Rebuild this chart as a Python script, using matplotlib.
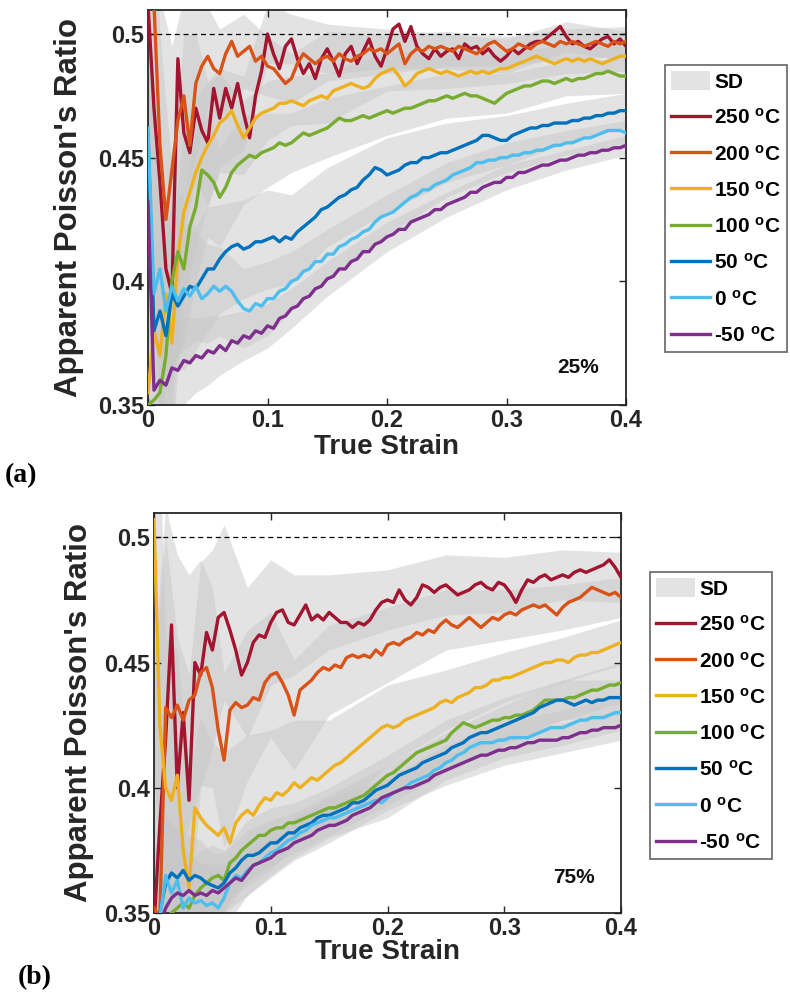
import numpy as np
import matplotlib
matplotlib.use("Agg")
import matplotlib.pyplot as plt
from matplotlib.patches import Patch
from matplotlib.lines import Line2D

plt.rcParams['font.family'] = ['Liberation Sans', 'DejaVu Sans']
plt.rcParams['font.weight'] = 'bold'
plt.rcParams['mathtext.fontset'] = 'custom'
plt.rcParams['mathtext.rm'] = 'Liberation Sans:bold'
plt.rcParams['mathtext.it'] = 'Liberation Sans:bold'
plt.rcParams['mathtext.bf'] = 'Liberation Sans:bold'

# ---------------- data ----------------
strain = np.round(np.arange(81) * 0.005, 3)  # 0 .. 0.4 sample positions
labels = ['250 $^{o}$C', '200 $^{o}$C', '150 $^{o}$C', '100 $^{o}$C',
          '50 $^{o}$C', '0 $^{o}$C', '-50 $^{o}$C']
colors = ['#A2142F', '#D95319', '#EDB120', '#77AC30', '#0072BD', '#4DBEEE', '#7E2F8E']

# panel (a) 25%
a_250 = [0.512,0.470,0.440,0.405,0.395,0.490,0.460,0.452,0.470,0.461,0.456,0.478,0.466,0.478,0.470,0.480,
         0.468,0.458,0.475,0.485,0.500,0.492,0.486,0.495,0.498,0.490,0.484,0.488,0.482,0.490,0.494,0.489,
         0.483,0.492,0.495,0.488,0.493,0.498,0.491,0.487,0.494,0.502,0.504,0.497,0.503,0.495,0.492,0.490,
         0.494,0.491,0.493,0.494,0.490,0.496,0.494,0.495,0.492,0.494,0.491,0.489,0.491,0.494,0.492,0.494,
         0.496,0.497,0.497,0.499,0.501,0.503,0.499,0.496,0.497,0.495,0.494,0.496,0.498,0.499,0.496,0.498,0.495]
a_200 = [0.512,0.512,0.455,0.425,0.445,0.465,0.475,0.455,0.480,0.487,0.491,0.486,0.484,0.492,0.497,0.491,
         0.493,0.495,0.489,0.491,0.487,0.486,0.483,0.480,0.482,0.488,0.492,0.490,0.488,0.490,0.491,0.489,
         0.492,0.490,0.489,0.491,0.492,0.494,0.493,0.494,0.492,0.494,0.496,0.488,0.492,0.494,0.493,0.495,
         0.494,0.495,0.494,0.493,0.495,0.494,0.493,0.492,0.494,0.496,0.497,0.495,0.493,0.494,0.496,0.495,
         0.494,0.496,0.497,0.496,0.495,0.497,0.496,0.497,0.496,0.495,0.496,0.497,0.496,0.495,0.497,0.496,0.497]
a_150 = [0.355,0.380,0.370,0.395,0.375,0.410,0.428,0.436,0.444,0.450,0.455,0.459,0.464,0.466,0.469,0.463,
         0.458,0.462,0.466,0.468,0.469,0.470,0.472,0.472,0.473,0.472,0.471,0.473,0.474,0.475,0.474,0.477,
         0.478,0.479,0.480,0.479,0.478,0.479,0.482,0.484,0.485,0.486,0.483,0.479,0.481,0.484,0.485,0.486,
         0.485,0.484,0.485,0.484,0.483,0.484,0.485,0.484,0.485,0.484,0.485,0.486,0.486,0.487,0.488,0.489,
         0.490,0.491,0.490,0.489,0.488,0.489,0.490,0.489,0.490,0.489,0.490,0.489,0.488,0.489,0.490,0.491,0.491]
a_100 = [0.350,0.352,0.355,0.370,0.400,0.412,0.405,0.422,0.430,0.445,0.443,0.440,0.434,0.438,0.444,0.447,
         0.449,0.451,0.450,0.452,0.453,0.454,0.456,0.455,0.456,0.458,0.460,0.459,0.460,0.461,0.462,0.464,
         0.466,0.465,0.465,0.466,0.467,0.466,0.467,0.468,0.469,0.468,0.469,0.470,0.470,0.471,0.472,0.473,
         0.473,0.474,0.475,0.474,0.475,0.476,0.475,0.475,0.474,0.473,0.472,0.474,0.476,0.477,0.478,0.479,
         0.479,0.480,0.481,0.481,0.480,0.481,0.482,0.481,0.482,0.482,0.483,0.484,0.484,0.485,0.484,0.483,0.483]
a_50 = [0.460,0.380,0.388,0.378,0.395,0.390,0.394,0.398,0.397,0.401,0.405,0.405,0.409,0.412,0.414,0.415,
        0.413,0.414,0.416,0.416,0.417,0.418,0.416,0.418,0.417,0.420,0.422,0.424,0.426,0.429,0.430,0.432,
        0.434,0.435,0.437,0.438,0.441,0.443,0.446,0.445,0.443,0.444,0.445,0.447,0.448,0.448,0.450,0.450,
        0.451,0.452,0.452,0.453,0.454,0.455,0.456,0.457,0.459,0.459,0.458,0.457,0.457,0.459,0.460,0.461,
        0.462,0.462,0.463,0.463,0.464,0.464,0.464,0.465,0.465,0.466,0.466,0.467,0.467,0.468,0.468,0.469,0.469]
a_0 = [0.462,0.395,0.405,0.388,0.398,0.392,0.397,0.394,0.398,0.393,0.395,0.398,0.396,0.398,0.396,0.392,
       0.389,0.388,0.391,0.390,0.393,0.393,0.396,0.397,0.400,0.401,0.404,0.405,0.408,0.408,0.411,0.411,
       0.414,0.415,0.417,0.418,0.420,0.421,0.424,0.426,0.427,0.428,0.430,0.432,0.434,0.435,0.437,0.437,
       0.439,0.440,0.441,0.443,0.444,0.445,0.446,0.448,0.448,0.449,0.449,0.450,0.450,0.451,0.451,0.452,
       0.452,0.453,0.453,0.454,0.455,0.455,0.456,0.456,0.457,0.458,0.458,0.459,0.460,0.461,0.461,0.461,0.460]
a_m50 = [0.432,0.356,0.360,0.358,0.365,0.364,0.368,0.367,0.370,0.369,0.372,0.371,0.374,0.372,0.376,0.375,
         0.378,0.377,0.380,0.379,0.382,0.381,0.385,0.386,0.389,0.390,0.393,0.394,0.397,0.398,0.401,0.402,
         0.405,0.405,0.408,0.409,0.412,0.412,0.415,0.416,0.418,0.419,0.421,0.421,0.424,0.425,0.426,0.427,
         0.429,0.429,0.431,0.432,0.433,0.434,0.436,0.436,0.438,0.439,0.440,0.440,0.442,0.442,0.444,0.444,
         0.445,0.446,0.447,0.447,0.448,0.449,0.449,0.450,0.451,0.451,0.452,0.452,0.453,0.453,0.454,0.454,0.455]

# panel (b) 75%
b_250 = [0.345,0.385,0.420,0.465,0.400,0.430,0.395,0.450,0.445,0.462,0.455,0.468,0.470,0.463,0.455,0.445,
         0.450,0.458,0.461,0.460,0.466,0.470,0.471,0.466,0.465,0.469,0.473,0.467,0.469,0.467,0.470,0.468,
         0.466,0.466,0.464,0.466,0.465,0.467,0.471,0.474,0.475,0.474,0.479,0.475,0.473,0.476,0.481,0.480,
         0.478,0.480,0.481,0.479,0.477,0.478,0.479,0.481,0.482,0.480,0.479,0.482,0.481,0.478,0.474,0.479,
         0.483,0.482,0.484,0.485,0.483,0.484,0.485,0.484,0.486,0.487,0.486,0.487,0.488,0.489,0.491,0.488,0.484]
b_200 = [0.352,0.348,0.432,0.428,0.433,0.427,0.435,0.437,0.446,0.448,0.440,0.423,0.411,0.431,0.434,0.432,
         0.433,0.436,0.435,0.442,0.445,0.446,0.442,0.437,0.429,0.439,0.441,0.443,0.446,0.448,0.447,0.449,
         0.448,0.452,0.453,0.452,0.453,0.452,0.455,0.453,0.457,0.458,0.457,0.459,0.460,0.462,0.461,0.463,
         0.462,0.465,0.467,0.465,0.464,0.466,0.468,0.466,0.464,0.466,0.468,0.467,0.469,0.470,0.469,0.471,
         0.472,0.473,0.472,0.473,0.471,0.469,0.472,0.474,0.475,0.476,0.478,0.480,0.479,0.478,0.477,0.478,0.476]
b_150 = [0.507,0.425,0.400,0.395,0.405,0.375,0.360,0.392,0.388,0.385,0.383,0.381,0.384,0.378,0.386,0.389,
         0.391,0.389,0.393,0.396,0.395,0.398,0.397,0.399,0.402,0.400,0.402,0.404,0.403,0.405,0.407,0.409,
         0.410,0.412,0.414,0.416,0.418,0.420,0.422,0.424,0.425,0.424,0.425,0.427,0.428,0.429,0.430,0.431,
         0.432,0.434,0.435,0.434,0.436,0.437,0.438,0.440,0.440,0.441,0.443,0.443,0.444,0.444,0.445,0.446,
         0.447,0.448,0.449,0.450,0.450,0.451,0.451,0.450,0.452,0.453,0.453,0.454,0.454,0.455,0.456,0.457,0.458]
b_100 = [0.345,0.345,0.348,0.350,0.352,0.354,0.352,0.357,0.360,0.362,0.364,0.365,0.363,0.370,0.372,0.375,
         0.377,0.379,0.381,0.381,0.383,0.384,0.384,0.386,0.386,0.387,0.388,0.389,0.390,0.391,0.392,0.392,
         0.393,0.394,0.395,0.396,0.397,0.399,0.401,0.403,0.405,0.406,0.408,0.410,0.412,0.414,0.415,0.416,
         0.417,0.418,0.419,0.422,0.424,0.426,0.425,0.424,0.425,0.426,0.427,0.427,0.428,0.428,0.429,0.429,
         0.430,0.431,0.433,0.435,0.435,0.435,0.435,0.436,0.436,0.437,0.438,0.439,0.439,0.440,0.441,0.441,0.442]
b_50 = [0.345,0.350,0.362,0.366,0.364,0.367,0.363,0.365,0.364,0.362,0.361,0.360,0.362,0.366,0.368,0.371,
        0.373,0.373,0.374,0.376,0.378,0.378,0.380,0.382,0.382,0.384,0.385,0.386,0.388,0.389,0.389,0.390,
        0.391,0.392,0.394,0.394,0.395,0.397,0.399,0.400,0.401,0.403,0.405,0.406,0.407,0.408,0.410,0.411,
        0.412,0.413,0.414,0.416,0.417,0.418,0.420,0.421,0.422,0.422,0.423,0.424,0.425,0.426,0.427,0.428,
        0.429,0.430,0.432,0.433,0.434,0.435,0.435,0.434,0.433,0.434,0.435,0.434,0.435,0.435,0.436,0.436,0.436]
b_0 = [0.345,0.348,0.365,0.358,0.363,0.352,0.356,0.354,0.355,0.353,0.354,0.352,0.356,0.362,0.365,0.364,
       0.367,0.369,0.370,0.372,0.374,0.375,0.377,0.379,0.380,0.382,0.383,0.385,0.386,0.387,0.388,0.388,
       0.389,0.390,0.391,0.392,0.393,0.394,0.395,0.394,0.396,0.398,0.399,0.400,0.402,0.403,0.404,0.405,
       0.407,0.408,0.410,0.411,0.413,0.414,0.416,0.417,0.418,0.418,0.418,0.419,0.419,0.420,0.420,0.420,
       0.420,0.421,0.422,0.423,0.424,0.424,0.424,0.425,0.426,0.427,0.427,0.428,0.428,0.428,0.429,0.430,0.430]
b_m50 = [0.345,0.345,0.352,0.356,0.358,0.357,0.359,0.357,0.358,0.357,0.359,0.358,0.360,0.362,0.364,0.363,
         0.366,0.369,0.370,0.371,0.372,0.374,0.375,0.376,0.378,0.379,0.380,0.381,0.383,0.384,0.385,0.385,
         0.386,0.387,0.389,0.390,0.391,0.392,0.394,0.396,0.397,0.398,0.399,0.400,0.400,0.401,0.402,0.403,
         0.405,0.406,0.407,0.408,0.409,0.410,0.411,0.412,0.413,0.413,0.414,0.415,0.415,0.416,0.416,0.417,
         0.418,0.418,0.419,0.419,0.419,0.419,0.420,0.420,0.421,0.422,0.422,0.423,0.423,0.424,0.424,0.424,0.425]

# SD bands, read at these strains
sd_strain = [0.0, 0.01, 0.02, 0.03, 0.04, 0.05, 0.06, 0.08, 0.1, 0.12, 0.15, 0.2, 0.25, 0.3, 0.35, 0.4]
a_sd = [
    [0.080,0.060,0.050,0.040,0.030,0.025,0.020,0.015,0.012,0.010,0.010,0.008,0.007,0.007,0.006,0.006],
    [0.080,0.060,0.050,0.040,0.030,0.020,0.018,0.015,0.012,0.010,0.010,0.008,0.007,0.006,0.006,0.006],
    [0.050,0.050,0.040,0.035,0.030,0.025,0.020,0.015,0.012,0.010,0.010,0.008,0.007,0.006,0.006,0.006],
    [0.040,0.040,0.035,0.030,0.030,0.025,0.020,0.018,0.015,0.012,0.012,0.010,0.009,0.008,0.007,0.007],
    [0.040,0.040,0.030,0.030,0.025,0.025,0.022,0.020,0.020,0.018,0.016,0.015,0.012,0.010,0.008,0.007],
    [0.040,0.035,0.030,0.025,0.022,0.020,0.018,0.016,0.015,0.012,0.010,0.008,0.007,0.006,0.005,0.005],
    [0.030,0.025,0.020,0.018,0.015,0.014,0.012,0.010,0.009,0.008,0.007,0.006,0.005,0.005,0.004,0.004],
]
b_sd = [
    [0.100,0.080,0.060,0.050,0.045,0.040,0.035,0.030,0.025,0.020,0.015,0.012,0.012,0.011,0.010,0.010],
    [0.100,0.080,0.060,0.050,0.045,0.040,0.035,0.030,0.025,0.022,0.018,0.015,0.012,0.010,0.009,0.008],
    [0.100,0.060,0.050,0.045,0.040,0.035,0.030,0.030,0.028,0.025,0.020,0.016,0.012,0.010,0.009,0.009],
    [0.030,0.025,0.020,0.018,0.015,0.013,0.012,0.010,0.009,0.008,0.008,0.008,0.008,0.008,0.008,0.008],
    [0.030,0.025,0.020,0.018,0.015,0.013,0.012,0.010,0.009,0.008,0.008,0.008,0.008,0.008,0.008,0.007],
    [0.030,0.025,0.020,0.018,0.015,0.013,0.012,0.010,0.009,0.008,0.008,0.008,0.007,0.007,0.007,0.007],
    [0.020,0.018,0.016,0.014,0.012,0.011,0.010,0.009,0.008,0.007,0.007,0.006,0.006,0.006,0.006,0.006],
]

x_ticks = [0, 0.1, 0.2, 0.3, 0.4]
x_ticklabels = ['0', '0.1', '0.2', '0.3', '0.4']
y_ticks = [0.35, 0.4, 0.45, 0.5]
y_ticklabels = ['0.35', '0.4', '0.45', '0.5']

series_a = [a_250, a_200, a_150, a_100, a_50, a_0, a_m50]
series_b = [b_250, b_200, b_150, b_100, b_50, b_0, b_m50]

# ---------------- figure ----------------
W, H = 790, 998
fig = plt.figure(figsize=(W / 100, H / 100), dpi=100)

def fr(l, t, r, b):
    return [l / W, 1 - b / H, (r - l) / W, (b - t) / H]

ax_a = fig.add_axes(fr(148, 10, 626, 405))
ax_b = fig.add_axes(fr(154, 513, 621, 913))

sd_idx = [int(round(s / 0.005)) for s in sd_strain]

def draw(ax, series, sds, pct, pct_xy, xlab_y, ylab_x):
    for ys, sd in zip(series, sds):
        ys = np.asarray(ys)
        c = ys[sd_idx]
        sd = np.asarray(sd)
        ax.fill_between(np.asarray(sd_strain), c - sd, c + sd, color='#c8c8c8',
                        alpha=0.5, linewidth=0, zorder=1)
    ax.axhline(0.5, color='black', linestyle=(0, (4, 3)), linewidth=0.9, zorder=2)
    for ys, col in zip(series, colors):
        ax.plot(strain, ys, color=col, linewidth=2.4, zorder=3)
    ax.set_xlim(0, 0.4)
    ax.set_ylim(0.35, 0.5097)
    ax.set_xticks(x_ticks)
    ax.set_xticklabels(x_ticklabels)
    ax.set_yticks(y_ticks)
    ax.set_yticklabels(y_ticklabels)
    ax.tick_params(direction='in', length=5, width=1.0, top=True, right=True,
                   labelsize=17, colors='#262626', pad=3)
    for lab in ax.get_xticklabels() + ax.get_yticklabels():
        lab.set_fontweight('bold')
    for sp in ax.spines.values():
        sp.set_linewidth(1.3)
        sp.set_color('#262626')
    ax.set_xlabel('True Strain', fontsize=20, fontweight='bold', color='#262626')
    ax.set_ylabel("Apparent Poisson's Ratio", fontsize=22.5, fontweight='bold', color='#262626')
    ax.xaxis.label.set_va('center')
    ax.yaxis.label.set_va('center')
    ax.xaxis.set_label_coords(0.5, xlab_y)
    ax.yaxis.set_label_coords(ylab_x, 0.5)
    ax.text(pct_xy[0], pct_xy[1], pct, fontsize=15, fontweight='bold', ha='center',
            va='center', color='#111111', zorder=5)

draw(ax_a, series_a, a_sd, '25%', (0.36, 0.365), -42 / 395, (69 - 148) / 478)
draw(ax_b, series_b, b_sd, '75%', (0.36, 0.364), -39 / 400, (79 - 154) / 467)

handles = [Patch(facecolor='#e3e3e3', edgecolor='none', label='SD')]
for lab, col in zip(labels, colors):
    handles.append(Line2D([0], [0], color=col, linewidth=2.4, label=lab))

def legend(anchor):
    leg = fig.legend(handles=handles, loc='upper left', bbox_to_anchor=anchor,
                     prop={'size': 15, 'weight': 'bold'}, frameon=True, fancybox=False,
                     handlelength=1.85, handleheight=1.0, handletextpad=0.2,
                     labelspacing=0.76, borderpad=0.3, borderaxespad=0)
    fr_ = leg.get_frame()
    fr_.set_edgecolor('#4d4d4d')
    fr_.set_linewidth(1.3)
    return leg

legend((665 / W, 1 - 65 / H))
legend((650 / W, 1 - 572 / H))

fig.text(5 / W, 1 - 476 / H, '(a)', fontsize=20, fontweight='bold',
         family=['Liberation Serif', 'DejaVu Serif'], va='center', ha='left')
fig.text(18 / W, 1 - 978 / H, '(b)', fontsize=20, fontweight='bold',
         family=['Liberation Serif', 'DejaVu Serif'], va='center', ha='left')

fig.savefig('out.png', dpi=100)
